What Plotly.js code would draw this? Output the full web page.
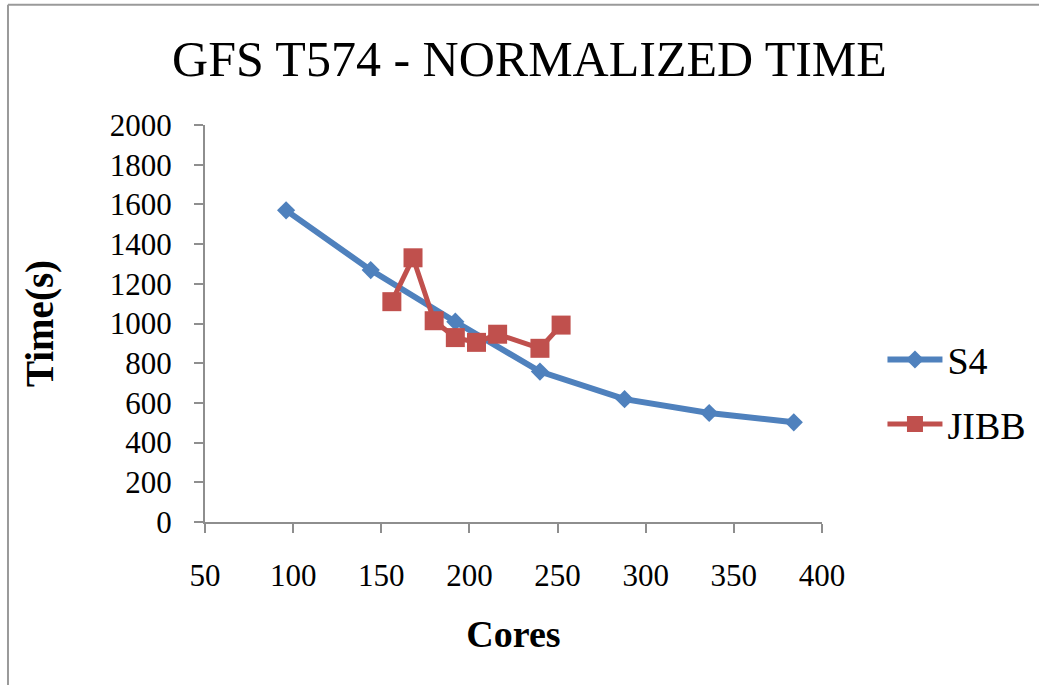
<!DOCTYPE html>
<html>
<head>
<meta charset="utf-8">
<script src="https://cdn.plot.ly/plotly-3.0.1.min.js"></script>
<style>html,body{margin:0;padding:0;background:#fff;}#chart{width:1039px;height:685px;}</style>
</head>
<body>
<div id="chart"></div>
<script>
const s4Cores = [96, 144, 192, 240, 288, 336, 384];
const s4Time = [1570, 1269, 1009, 758, 619, 549, 502];
const jibbCores = [156, 168, 180, 192, 204, 216, 240, 252];
const jibbTime = [1110, 1331, 1014, 929, 905, 946, 875, 992];
const xTicks = [50, 100, 150, 200, 250, 300, 350, 400];
const yTicks = [0, 200, 400, 600, 800, 1000, 1200, 1400, 1600, 1800, 2000];

const FONT = '"Liberation Serif", "DejaVu Serif", serif';
const axisColor = '#8E8E8E';

const traces = [
  {
    x: s4Cores, y: s4Time, name: 'S4', mode: 'lines+markers',
    legendgroup: 'a',
    line: {color: '#4F81BD', width: 6},
    marker: {symbol: 'diamond', size: 14, color: '#4F81BD'}
  },
  {
    x: jibbCores, y: jibbTime, name: 'JIBB', mode: 'lines+markers',
    legendgroup: 'b',
    line: {color: '#C0504D', width: 5},
    marker: {symbol: 'square', size: 19, color: '#C0504D'}
  }
];

const layout = {
  width: 1039, height: 685,
  paper_bgcolor: '#fff', plot_bgcolor: '#fff',
  margin: {l: 205, r: 217, t: 124.5, b: 162.5, autoexpand: false},
  font: {family: FONT, color: '#000', size: 31},
  title: {
    text: 'GFS T574 - NORMALIZED TIME',
    font: {family: FONT, size: 50, color: '#000'},
    x: 0.5096, xref: 'container', xanchor: 'center',
    y: 0.914, yref: 'container', yanchor: 'middle'
  },
  xaxis: {
    range: [50, 400], tickvals: xTicks, ticktext: xTicks.map(String),
    showgrid: false, zeroline: false,
    showline: true, linecolor: axisColor, linewidth: 2,
    ticks: 'outside', ticklen: 9, tickwidth: 2, tickcolor: axisColor,
    ticklabelstandoff: 16,
    tickfont: {family: FONT, size: 31, color: '#000'},
    title: {text: '<b>Cores</b>', font: {family: FONT, size: 38, color: '#000'}, standoff: 28}
  },
  yaxis: {
    range: [0, 2000], tickvals: yTicks, ticktext: yTicks.map(String),
    showgrid: false, zeroline: false,
    showline: true, linecolor: axisColor, linewidth: 2,
    ticks: 'outside', ticklen: 9, tickwidth: 2, tickcolor: axisColor,
    ticklabelstandoff: 16,
    tickfont: {family: FONT, size: 31, color: '#000'},
    title: {text: '<b>Time(s)</b>', font: {family: FONT, size: 39, color: '#000'}, standoff: 44}
  },
  legend: {
    x: 1.098, xanchor: 'left', y: 0.328, yanchor: 'middle',
    font: {family: FONT, size: 38, color: '#000'},
    itemwidth: 55, traceorder: 'grouped', tracegroupgap: 12,
    bgcolor: 'rgba(0,0,0,0)'
  },
  shapes: [
    {type: 'line', xref: 'paper', yref: 'paper', x0: -0.3193, x1: -0.3193, y0: -0.5, y1: 1.3028,
     line: {color: '#9A9A9A', width: 2}},
    {type: 'line', xref: 'paper', yref: 'paper', x0: -0.3193, x1: 1.36, y0: 1.3028, y1: 1.3028,
     line: {color: '#9A9A9A', width: 2}}
  ],
  showlegend: true
};

Plotly.newPlot('chart', traces, layout, {displayModeBar: false, staticPlot: true});
</script>
</body>
</html>
